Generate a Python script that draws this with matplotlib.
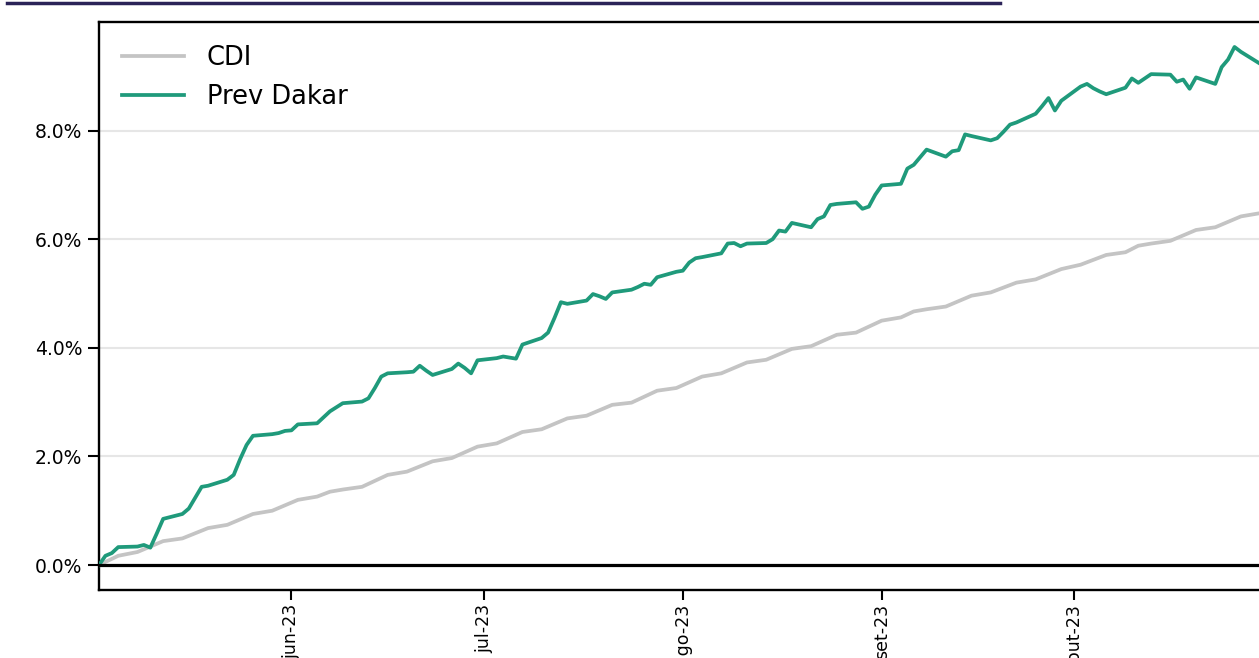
import matplotlib
matplotlib.use("Agg")
import matplotlib.pyplot as plt
import matplotlib.dates as mdates
from matplotlib.ticker import PercentFormatter, FixedLocator, FixedFormatter
from matplotlib.lines import Line2D
import pandas as pd

# ---------------- data ----------------
dakar_dates = [
    "2023-05-02", "2023-05-03", "2023-05-04", "2023-05-05", "2023-05-08", "2023-05-09", "2023-05-10",
    "2023-05-11", "2023-05-12", "2023-05-15", "2023-05-16", "2023-05-17", "2023-05-18", "2023-05-19",
    "2023-05-22", "2023-05-23", "2023-05-24", "2023-05-25", "2023-05-26", "2023-05-29", "2023-05-30",
    "2023-05-31", "2023-06-01", "2023-06-02", "2023-06-05", "2023-06-06", "2023-06-07", "2023-06-09",
    "2023-06-12", "2023-06-13", "2023-06-14", "2023-06-15", "2023-06-16", "2023-06-19", "2023-06-20",
    "2023-06-21", "2023-06-22", "2023-06-23", "2023-06-26", "2023-06-27", "2023-06-28", "2023-06-29",
    "2023-06-30", "2023-07-03", "2023-07-04", "2023-07-05", "2023-07-06", "2023-07-07", "2023-07-10",
    "2023-07-11", "2023-07-12", "2023-07-13", "2023-07-14", "2023-07-17", "2023-07-18", "2023-07-19",
    "2023-07-20", "2023-07-21", "2023-07-24", "2023-07-25", "2023-07-26", "2023-07-27", "2023-07-28",
    "2023-07-31", "2023-08-01", "2023-08-02", "2023-08-03", "2023-08-04", "2023-08-07", "2023-08-08",
    "2023-08-09", "2023-08-10", "2023-08-11", "2023-08-14", "2023-08-15", "2023-08-16", "2023-08-17",
    "2023-08-18", "2023-08-21", "2023-08-22", "2023-08-23", "2023-08-24", "2023-08-25", "2023-08-28",
    "2023-08-29", "2023-08-30", "2023-08-31", "2023-09-01", "2023-09-04", "2023-09-05", "2023-09-06",
    "2023-09-08", "2023-09-11", "2023-09-12", "2023-09-13", "2023-09-14", "2023-09-15", "2023-09-18",
    "2023-09-19", "2023-09-20", "2023-09-21", "2023-09-22", "2023-09-25", "2023-09-26", "2023-09-27",
    "2023-09-28", "2023-09-29", "2023-10-02", "2023-10-03", "2023-10-04", "2023-10-05", "2023-10-06",
    "2023-10-09", "2023-10-10", "2023-10-11", "2023-10-13", "2023-10-16", "2023-10-17", "2023-10-18",
    "2023-10-19", "2023-10-20", "2023-10-23", "2023-10-24", "2023-10-25", "2023-10-26", "2023-10-27",
    "2023-10-30", "2023-10-31",
]
dakar_values = [
    0.00, 0.17, 0.22, 0.33, 0.34, 0.37, 0.32,
    0.58, 0.85, 0.94, 1.04, 1.24, 1.44, 1.46,
    1.57, 1.66, 1.95, 2.21, 2.38, 2.41, 2.43,
    2.47, 2.48, 2.59, 2.61, 2.72, 2.83, 2.98,
    3.01, 3.07, 3.26, 3.47, 3.53, 3.55, 3.56,
    3.67, 3.58, 3.50, 3.61, 3.71, 3.63, 3.53,
    3.77, 3.81, 3.84, 3.82, 3.80, 4.06, 4.18,
    4.28, 4.55, 4.84, 4.81, 4.87, 4.99, 4.95,
    4.90, 5.02, 5.07, 5.12, 5.18, 5.16, 5.30,
    5.40, 5.42, 5.57, 5.65, 5.67, 5.74, 5.92,
    5.93, 5.87, 5.92, 5.93, 6.00, 6.16, 6.14,
    6.30, 6.22, 6.37, 6.42, 6.63, 6.65, 6.68,
    6.56, 6.60, 6.82, 6.99, 7.02, 7.30, 7.37,
    7.65, 7.52, 7.62, 7.64, 7.93, 7.90, 7.82,
    7.86, 7.98, 8.11, 8.15, 8.31, 8.45, 8.60,
    8.37, 8.55, 8.81, 8.86, 8.78, 8.72, 8.67,
    8.79, 8.96, 8.88, 9.04, 9.03, 8.90, 8.94,
    8.77, 8.98, 8.86, 9.17, 9.31, 9.54, 9.45,
    9.23, 9.18,
]

cdi_dates = [
    "2023-05-02", "2023-05-05", "2023-05-08", "2023-05-12", "2023-05-15", "2023-05-19", "2023-05-22",
    "2023-05-26", "2023-05-29", "2023-06-02", "2023-06-05", "2023-06-07", "2023-06-09", "2023-06-12",
    "2023-06-16", "2023-06-19", "2023-06-23", "2023-06-26", "2023-06-30", "2023-07-03", "2023-07-07",
    "2023-07-10", "2023-07-14", "2023-07-17", "2023-07-21", "2023-07-24", "2023-07-28", "2023-07-31",
    "2023-08-04", "2023-08-07", "2023-08-11", "2023-08-14", "2023-08-18", "2023-08-21", "2023-08-25",
    "2023-08-28", "2023-09-01", "2023-09-04", "2023-09-06", "2023-09-08", "2023-09-11", "2023-09-15",
    "2023-09-18", "2023-09-22", "2023-09-25", "2023-09-29", "2023-10-02", "2023-10-06", "2023-10-09",
    "2023-10-11", "2023-10-13", "2023-10-16", "2023-10-20", "2023-10-23", "2023-10-27", "2023-10-30",
    "2023-10-31",
]
cdi_values = [
    0.00, 0.17, 0.24, 0.44, 0.49, 0.68, 0.74,
    0.94, 1.00, 1.20, 1.26, 1.35, 1.39, 1.44,
    1.66, 1.72, 1.91, 1.97, 2.18, 2.24, 2.45,
    2.50, 2.70, 2.75, 2.95, 2.99, 3.21, 3.26,
    3.47, 3.53, 3.73, 3.78, 3.98, 4.03, 4.24,
    4.28, 4.50, 4.56, 4.67, 4.71, 4.76, 4.96,
    5.02, 5.20, 5.26, 5.45, 5.53, 5.71, 5.76,
    5.88, 5.92, 5.97, 6.17, 6.22, 6.42, 6.48,
    6.53,
]

month_ticks = ["2023-06-01", "2023-07-01", "2023-08-01", "2023-09-01", "2023-10-01"]
month_labels = ["jun-23", "jul-23", "ago-23", "set-23", "out-23"]
y_ticks = [0, 2, 4, 6, 8]

series_labels = ["CDI", "Prev Dakar"]
series_colors = ["#c4c4c4", "#1f9a7b"]

# ---------------- figure ----------------
W, H = 1259, 658
fig = plt.figure(figsize=(W / 100, H / 100), dpi=100)

d_cdi = pd.to_datetime(cdi_dates)
d_dak = pd.to_datetime(dakar_dates)
x0 = pd.Timestamp("2023-05-02")
x1 = pd.Timestamp("2023-10-31")

left_px, right_px, top_px, bottom_px = 99, 1266.6, 22, 590
ax = fig.add_axes([left_px / W, 1 - bottom_px / H,
                   (right_px - left_px) / W, (bottom_px - top_px) / H])

ax.plot(d_cdi, cdi_values, color=series_colors[0], lw=2.7, label=series_labels[0], zorder=3)
ax.plot(d_dak, dakar_values, color=series_colors[1], lw=2.7, label=series_labels[1], zorder=4)

ax.axhline(0, color="black", lw=2.3, zorder=5)

ax.set_xlim(x0, x1)
ax.set_ylim(-0.46, 10.0)

ax.yaxis.set_major_locator(FixedLocator(y_ticks))
ax.yaxis.set_major_formatter(PercentFormatter(xmax=100, decimals=1))
ax.grid(axis="y", color="#e6e6e6", lw=1.5, zorder=0)
ax.set_axisbelow(True)

tick_nums = mdates.date2num(pd.to_datetime(month_ticks))
ax.xaxis.set_major_locator(FixedLocator(tick_nums))
ax.xaxis.set_major_formatter(FixedFormatter(month_labels))
ax.xaxis.set_minor_locator(FixedLocator([]))

ax.tick_params(axis="y", labelsize=13.5, colors="black", length=8, width=1.5, pad=4)
ax.tick_params(axis="x", labelsize=12.5, colors="black", length=7, width=1.5, pad=3)
plt.setp(ax.get_xticklabels(), rotation=90)

for s in ["left", "bottom", "top", "right"]:
    ax.spines[s].set_linewidth(1.7)
    ax.spines[s].set_color("black")

ax.legend(loc="upper left", frameon=False, fontsize=18.5, handlelength=2.4,
          handletextpad=0.9, labelspacing=0.5, borderaxespad=0.5)

# navy underline of the (cropped) title band at the very top
fig.add_artist(Line2D([7 / W, 1000 / W], [1 - 3 / H, 1 - 3 / H],
                      transform=fig.transFigure, color="#2b2358", lw=2.5))

fig.savefig("out.png", dpi=100)
